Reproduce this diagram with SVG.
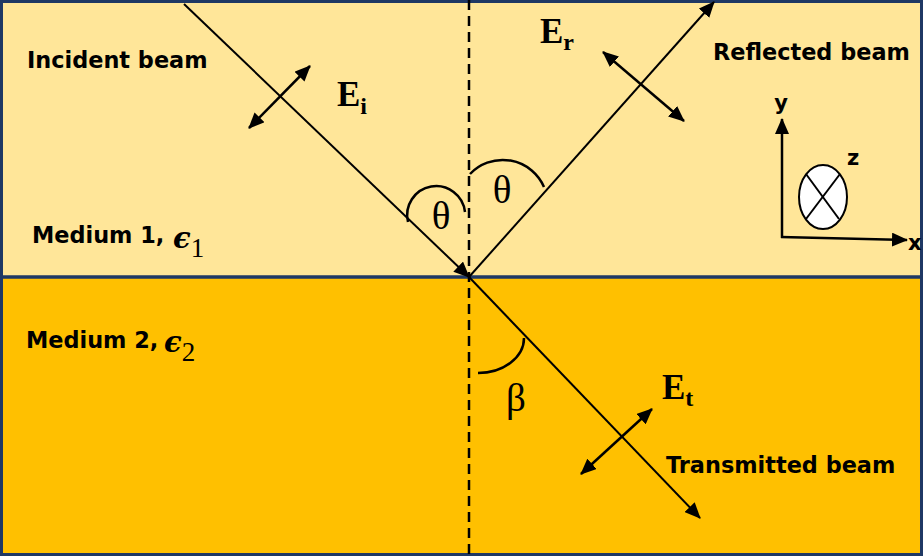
<svg xmlns="http://www.w3.org/2000/svg" width="923" height="556" viewBox="0 0 923 556">
  <defs>
    <marker id="ah" viewBox="0 0 16 14" refX="15" refY="7" markerWidth="16" markerHeight="14" markerUnits="userSpaceOnUse" orient="auto-start-reverse">
      <path d="M0,0 L16,7 L0,14 z" fill="#000"/>
    </marker>
    <style>
      .lbl { font-family: "DejaVu Sans", Verdana, sans-serif; font-weight: bold; font-size: 22.4px; fill: #000; }
      .ax { font-size: 21px; }
      .eps { font-family: "DejaVu Serif", "Liberation Serif", serif; font-style: italic; font-weight: bold; font-size: 29px; }
      .sub1 { font-family: "Liberation Serif", "DejaVu Serif", serif; font-size: 27px; }
      .E { font-family: "Liberation Serif", "DejaVu Serif", serif; font-weight: bold; font-size: 35px; fill: #000; }
      .Es { font-size: 24px; }
      .greek { font-family: "Liberation Serif", "DejaVu Serif", serif; font-size: 39px; fill: #000; }
      .beam { stroke: #000; stroke-width: 2; fill: none; }
      .pol { stroke: #000; stroke-width: 2.5; fill: none; }
      .arc { stroke: #000; stroke-width: 2.5; fill: none; }
    </style>
  </defs>

  <g id="media">
    <rect x="0" y="0" width="923" height="277" fill="#FFE699"/>
    <rect x="0" y="277" width="923" height="279" fill="#FFC000"/>
    <line x1="0" y1="277" x2="923" y2="277" stroke="#1F3864" stroke-width="3.5"/>
    <rect x="1.5" y="1.5" width="920" height="553" fill="none" stroke="#1F3864" stroke-width="3"/>
  </g>

  <g id="normal">
    <line x1="469" y1="0" x2="469" y2="556" stroke="#000" stroke-width="2.5" stroke-dasharray="10 6"/>
  </g>

  <g id="connectors">
    <line class="beam" x1="184" y1="4" x2="469" y2="277" marker-end="url(#ah)"/>
    <line class="beam" x1="469" y1="277" x2="714" y2="2" marker-end="url(#ah)"/>
    <line class="beam" x1="469" y1="277" x2="700" y2="518" marker-end="url(#ah)"/>
    <line class="pol" x1="249" y1="128" x2="310" y2="66" marker-start="url(#ah)" marker-end="url(#ah)"/>
    <line class="pol" x1="603" y1="52" x2="684" y2="121" marker-start="url(#ah)" marker-end="url(#ah)"/>
    <line class="pol" x1="581" y1="474" x2="652" y2="409" marker-start="url(#ah)" marker-end="url(#ah)"/>
  </g>

  <g id="angles">
    <path class="arc" d="M408,222 A29,29 0 1 1 465,212"/>
    <path class="arc" d="M470,174 A45,45 0 0 1 544,187"/>
    <path class="arc" d="M478,373 A46,35 0 0 0 524,338"/>
    <text class="greek" x="441" y="229" text-anchor="middle">θ</text>
    <text class="greek" x="502" y="203" text-anchor="middle">θ</text>
    <text class="greek" x="516" y="411" text-anchor="middle">β</text>
  </g>

  <g id="incident">
    <text class="lbl" x="27" y="68">Incident beam</text>
    <text class="E" x="337" y="106">E<tspan class="Es" dy="8">i</tspan></text>
  </g>

  <g id="reflected">
    <text class="lbl" x="713" y="60">Reflected beam</text>
    <text class="E" x="540" y="43">E<tspan class="Es" dy="7">r</tspan></text>
  </g>

  <g id="transmitted">
    <text class="lbl" x="666" y="473">Transmitted beam</text>
    <text class="E" x="662" y="399">E<tspan class="Es" dy="7">t</tspan></text>
  </g>

  <g id="medium1">
    <text class="lbl" x="32" y="243">Medium 1,</text>
    <text x="173" y="248"><tspan class="eps">ϵ</tspan><tspan class="sub1" dy="9">1</tspan></text>
  </g>

  <g id="medium2">
    <text class="lbl" x="26" y="348">Medium 2,</text>
    <text x="164" y="352"><tspan class="eps">ϵ</tspan><tspan class="sub1" dy="9">2</tspan></text>
  </g>

  <g id="axes">
    <line class="pol" x1="782" y1="238" x2="782" y2="119" marker-end="url(#ah)"/>
    <line class="pol" x1="781" y1="237" x2="907" y2="240" marker-end="url(#ah)"/>
    <text class="lbl ax" x="781" y="110" text-anchor="middle">y</text>
    <text class="lbl ax" x="908" y="250">x</text>
    <text class="lbl ax" x="847" y="165">z</text>
    <ellipse cx="823" cy="197" rx="24" ry="32" fill="#fff" stroke="#000" stroke-width="2"/>
    <line x1="806" y1="174" x2="839" y2="219" stroke="#000" stroke-width="2"/>
    <line x1="840" y1="174" x2="806" y2="219" stroke="#000" stroke-width="2"/>
  </g>
</svg>
